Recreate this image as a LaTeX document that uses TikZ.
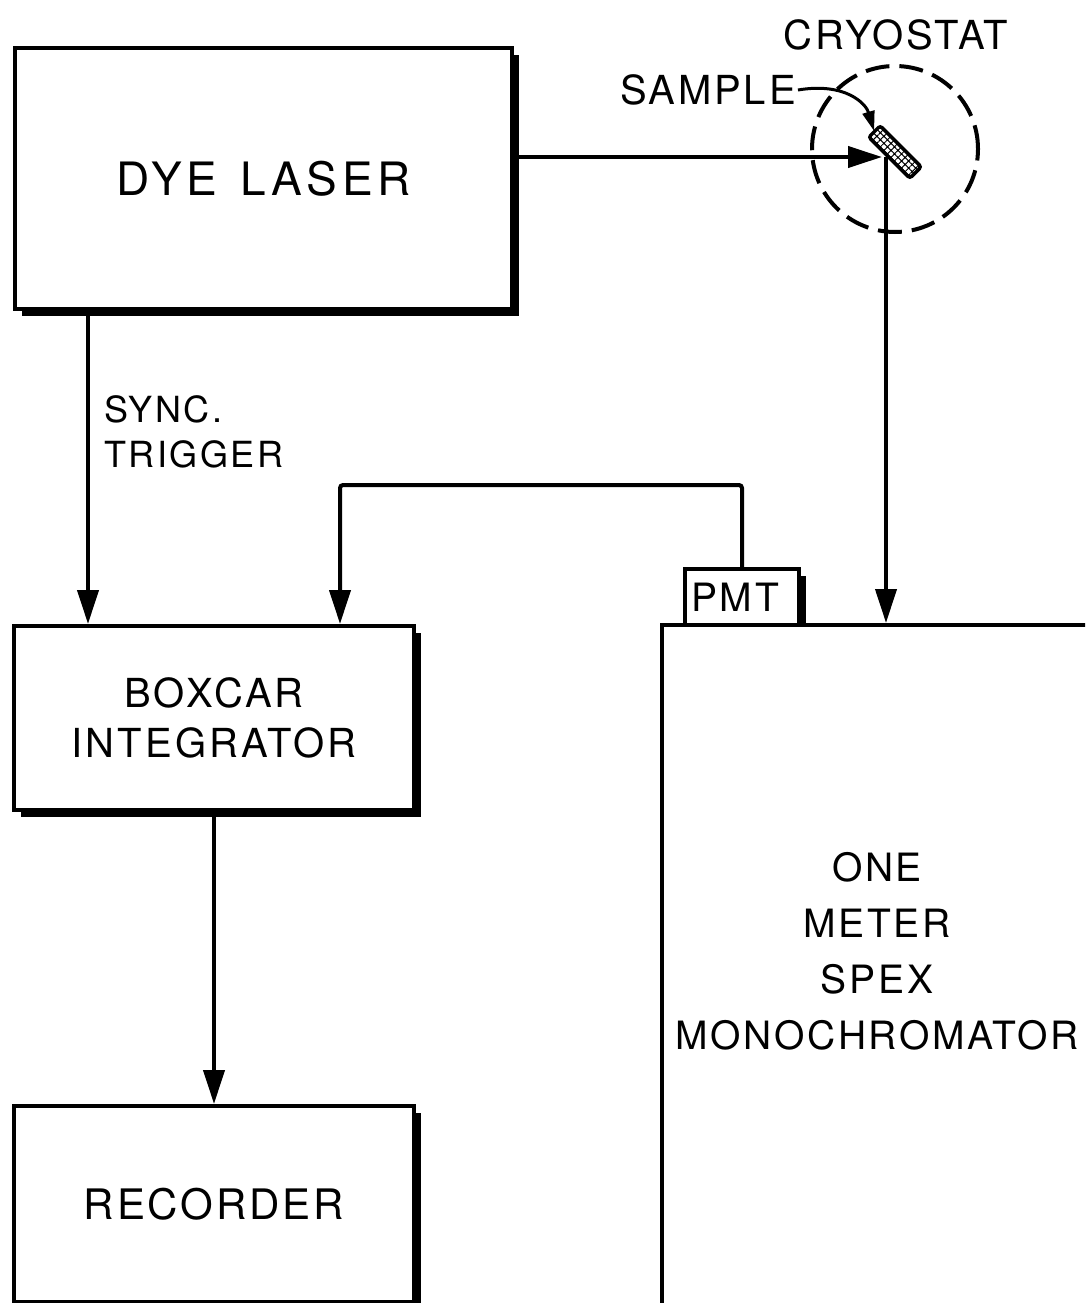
\documentclass[tikz,border=0pt]{standalone}
\usepackage{fontspec}
\setmainfont{TeX Gyre Heros}[LetterSpace=7]
\usetikzlibrary{arrows.meta,shadows,patterns.meta,calc}
\begin{document}
\begin{tikzpicture}[x=1pt,y=-1pt,
  box/.style={draw, line width=4pt, fill=white, inner sep=0pt, anchor=north west, align=center,
    drop shadow={shadow xshift=7pt, shadow yshift=-7pt, opacity=1, fill=black}},
  flow/.style={line width=4pt, -{Triangle[length=34pt,width=21pt]}},
  lbl/.style={inner sep=0pt, align=center}]
\useasboundingbox (0,0) rectangle (1085,1303);
\clip (0,0) rectangle (1085,1303);

% boxes
\node[box, font=\fontsize{46}{50}\selectfont\addfontfeatures{LetterSpace=10}, minimum width=497pt, minimum height=261pt] (dye) at (13,46) {DYE\hspace{6pt} LASER};
\node[box, font=\fontsize{40}{50}\selectfont\addfontfeatures{LetterSpace=8}, minimum width=400pt, minimum height=184pt] (boxcar) at (12,624) {BOXCAR\\INTEGRATOR};
\node[box, font=\fontsize{42}{50}\selectfont, minimum width=400pt, minimum height=196pt] (rec) at (12,1104) {RECORDER};
\node[box, minimum width=114pt, minimum height=56pt] (pmt) at (683,567) {};
\node[lbl, font=\fontsize{39}{50}\selectfont] (pmttext) at (735,597) {PMT};
\node[draw, line width=4pt, fill=white, anchor=north west, inner sep=0pt,
      minimum width=440pt, minimum height=720pt] (mono) at (660,623) {};
\node[lbl, font=\fontsize{39}{56}\selectfont] (monotext) at (877,951) {ONE\\METER\\SPEX\\MONOCHROMATOR};

% labels
\node[lbl, font=\fontsize{40}{50}\selectfont] (cryotext) at (896,35) {CRYOSTAT};
\node[lbl, font=\fontsize{40}{50}\selectfont] (samptext) at (708,90) {SAMPLE};
\node[lbl, align=left, anchor=west, font=\fontsize{36}{45}\selectfont] (sync) at (104,432) {SYNC.\\TRIGGER};

% cryostat and sample
\node[draw, circle, line width=4pt, dash pattern=on 24pt off 10pt, minimum size=166pt, inner sep=0pt] (cryo) at (895,149) {};
\node[draw, line width=3.5pt, rounded corners=2.5pt, rotate=-45, minimum width=58pt, minimum height=16pt,
      inner sep=0pt, pattern={Hatch[angle=45,distance=5pt,line width=1pt]}] (sample) at (895,152) {};
\coordinate (tip) at (882,157);

% connectors
\draw[flow] (dye.east |- tip) -- (tip);
\draw[flow] ([xshift=4pt]tip) -- ([xshift=4pt]tip |- mono.north);
\draw[line width=3pt, -{Triangle[length=20pt,width=12pt]}]
  ([xshift=2pt]samptext.east) .. controls (846,82) and (866,104) .. (sample.west);
\draw[flow] ([xshift=75pt]dye.south west) -- ([xshift=76pt]boxcar.north west);
\draw[flow, rounded corners=3pt] (pmt.north) -- ++(0,-82) -| ([xshift=328pt]boxcar.north west);
\draw[flow] (boxcar.south) -- (rec.north);
\end{tikzpicture}
\end{document}
